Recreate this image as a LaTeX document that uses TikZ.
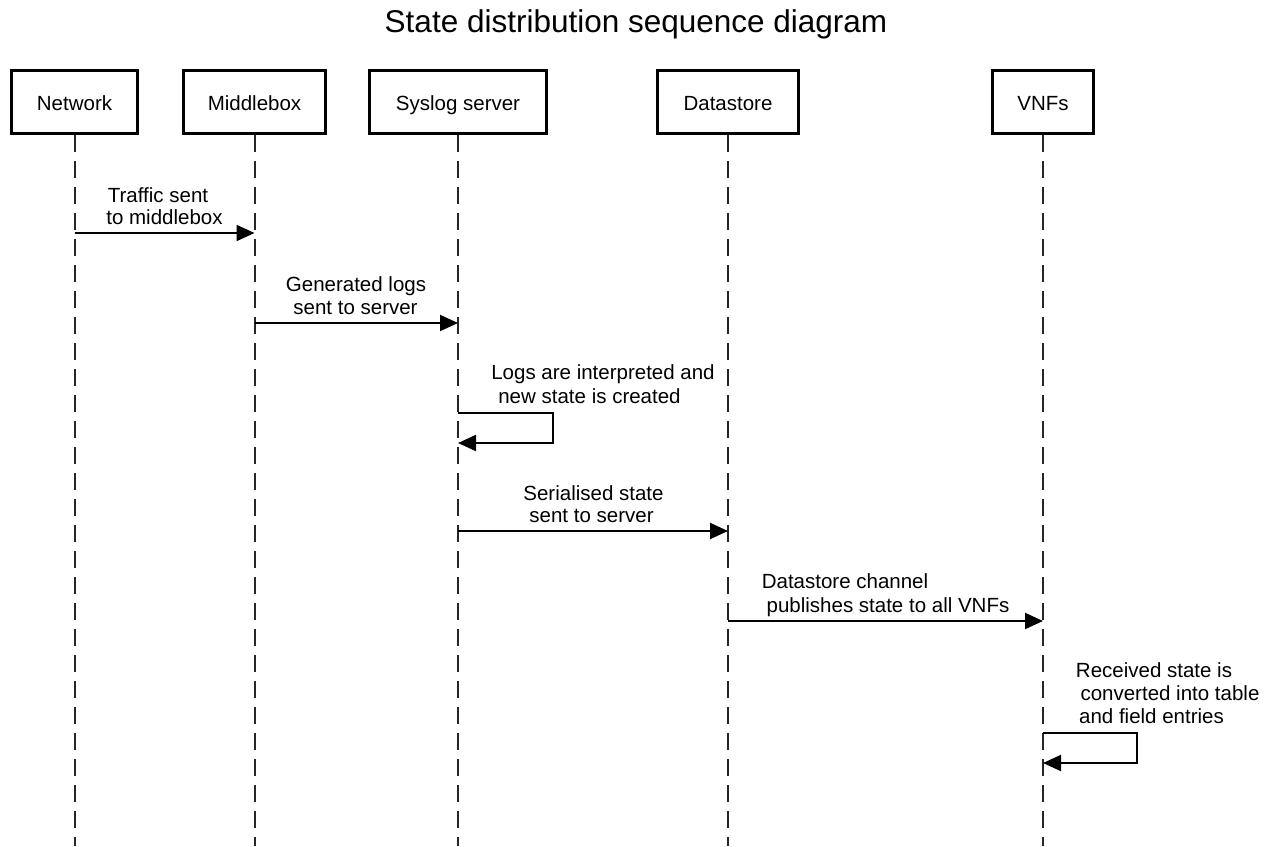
\documentclass[tikz,border=0pt]{standalone}
\usepackage{fontspec}
\setmainfont{Liberation Sans}
\usetikzlibrary{arrows.meta}
\begin{document}
\begin{tikzpicture}[x=1pt,y=-1pt,
  actor/.style={draw,line width=3pt,inner sep=0pt,minimum height=63pt,text height=16pt,text depth=0pt,font=\fontsize{20.5}{23}\selectfont},
  lifeline/.style={line width=2pt,dash pattern=on 17pt off 9pt,draw=black!85},
  msg/.style={line width=2pt,-{Triangle[length=18pt,width=16pt]}},
  lbl/.style={anchor=base,inner sep=0pt,font=\fontsize{20.5}{23}\selectfont}]
\useasboundingbox[fill=white] (0,0) rectangle (1277,846);
\node[anchor=base,inner sep=0pt,font=\fontsize{31.5}{36}\selectfont] (title) at (636,32) {State distribution sequence diagram};
% actors
\node[actor,minimum width=126pt] (net) at (74.5,102) {Network};
\node[actor,minimum width=142pt] (mid) at (254.5,102) {Middlebox};
\node[actor,minimum width=177pt] (sys) at (458,102) {Syslog server};
\node[actor,minimum width=141pt] (dat) at (728,102) {Datastore};
\node[actor,minimum width=101pt] (vnf) at (1043,102) {VNFs};
% lifelines
\coordinate (netEnd) at (74.5,846);
\coordinate (midEnd) at (254.5,846);
\coordinate (sysEnd) at (458,846);
\coordinate (datEnd) at (728,846);
\coordinate (vnfEnd) at (1043,846);
\draw[lifeline] (net.south) -- (netEnd);
\draw[lifeline] (mid.south) -- (midEnd);
\draw[lifeline] (sys.south) -- (sysEnd);
\draw[lifeline] (dat.south) -- (datEnd);
\draw[lifeline] (vnf.south) -- (vnfEnd);
% message 1
\coordinate (m1a) at (74.5,233);
\coordinate (m1b) at (254.5,233);
\draw[msg] (m1a) -- (m1b);
\node[lbl] (t1a) at (158,202) {Traffic sent};
\node[lbl] (t1b) at (164.5,224) {to middlebox};
% message 2
\coordinate (m2a) at (254.5,323);
\coordinate (m2b) at (458,323);
\draw[msg] (m2a) -- (m2b);
\node[lbl] (t2a) at (356,291) {Generated logs};
\node[lbl] (t2b) at (355.5,314) {sent to server};
% self message 3
\coordinate (m3a) at (458,413);
\coordinate (m3b) at (553,413);
\coordinate (m3c) at (553,443);
\coordinate (m3d) at (458,443);
\draw[msg] (m3a) -- (m3b) -- (m3c) -- (m3d);
\node[lbl] (t3a) at (603,379) {Logs are interpreted and};
\node[lbl] (t3b) at (589.5,403) {new state is created};
% message 4
\coordinate (m4a) at (458,531);
\coordinate (m4b) at (728,531);
\draw[msg] (m4a) -- (m4b);
\node[lbl] (t4a) at (593.5,500) {Serialised state};
\node[lbl] (t4b) at (591.5,522) {sent to server};
% message 5
\coordinate (m5a) at (728,621);
\coordinate (m5b) at (1043,621);
\draw[msg] (m5a) -- (m5b);
\node[lbl] (t5a) at (845,588) {Datastore channel};
\node[lbl] (t5b) at (888,612) {publishes state to all VNFs};
% self message 6
\coordinate (m6a) at (1043,733);
\coordinate (m6b) at (1137,733);
\coordinate (m6c) at (1137,763);
\coordinate (m6d) at (1043,763);
\draw[msg] (m6a) -- (m6b) -- (m6c) -- (m6d);
\node[lbl] (t6a) at (1154,677) {Received state is};
\node[lbl] (t6b) at (1170,700) {converted into table};
\node[lbl] (t6c) at (1151.5,723) {and field entries};
\end{tikzpicture}
\end{document}
